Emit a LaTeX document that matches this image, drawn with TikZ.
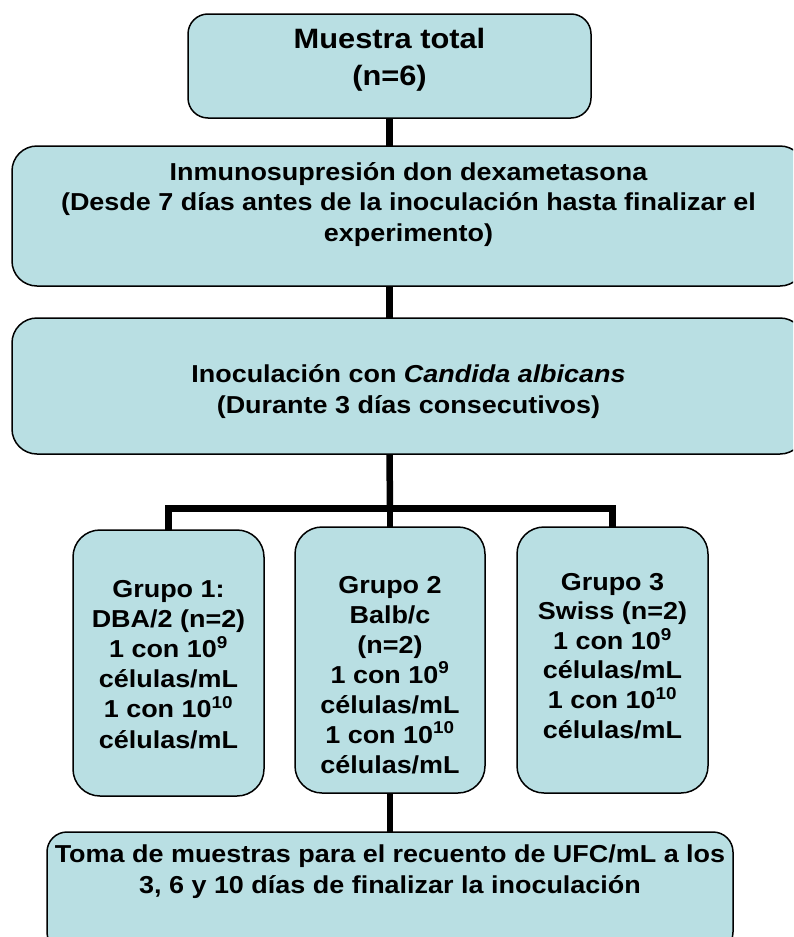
\documentclass[tikz,border=0pt]{standalone}
\usepackage{fontspec}
\setmainfont{Liberation Sans}[FakeStretch=1.1]
\definecolor{boxfill}{RGB}{185,223,227}
\newcommand\fsz[2]{\fontsize{#1}{#2}\selectfont\bfseries}
\newcommand\lines[1]{\begin{tabular}[t]{@{}c@{}}#1\end{tabular}}
\tikzset{
  box/.style={draw=black, line width=1.5pt, fill=boxfill, inner sep=0pt, outer sep=0pt},
  conn/.style={draw=black, line width=6.5pt, line join=miter},
  txt/.style={inner sep=0pt, outer sep=0pt, anchor=base},
}
\begin{document}
\begin{tikzpicture}[x=1pt,y=1pt]
\useasboundingbox (0,0) rectangle (793,-937);
\clip (0,0) rectangle (793,-937);
% boxes (named) -- drawn first as coordinates only for connectors
\path
  node[box, draw=none, fill=none, minimum width=403, minimum height=104] (b1) at (389.5,-66) {}
  node[box, draw=none, fill=none, minimum width=793, minimum height=140] (b2) at (408.5,-216) {}
  node[box, draw=none, fill=none, minimum width=793, minimum height=136] (b3) at (408.5,-386) {}
  node[box, draw=none, fill=none, minimum width=191, minimum height=266] (g1) at (168.5,-663) {}
  node[box, draw=none, fill=none, minimum width=190, minimum height=266] (g2) at (390,-660) {}
  node[box, draw=none, fill=none, minimum width=191, minimum height=266] (g3) at (612.5,-660) {}
  node[box, draw=none, fill=none, minimum width=686, minimum height=120] (b5) at (390,-892) {};
\coordinate (j) at (390,-508.5);
% connectors
\draw[conn] (b1.south) -- (b1.south |- b2.north);
\draw[conn] (b1.south |- b2.south) -- (b1.south |- b3.north);
\draw[conn] (b1.south |- b3.south) -- (j);
\draw[conn] (g1.north) |- (g3.north |- j) -- (g3.north);
\draw[conn] (j) -- (g2.north);
\draw[conn] (g2.south) -- (b5.north);
% visible boxes
\node[box, rounded corners=20pt, minimum width=403, minimum height=104] (B1) at (b1) {};
\node[box, rounded corners=25pt, minimum width=793, minimum height=140] (B2) at (b2) {};
\node[box, rounded corners=25pt, minimum width=793, minimum height=136] (B3) at (b3) {};
\node[box, rounded corners=27pt, minimum width=191, minimum height=266] (G1) at (g1) {};
\node[box, rounded corners=27pt, minimum width=190, minimum height=266] (G2) at (g2) {};
\node[box, rounded corners=27pt, minimum width=191, minimum height=266] (G3) at (g3) {};
\node[box, rounded corners=20pt, minimum width=686, minimum height=120] (B5) at (b5) {};
% texts
\node[txt] (t1) at (389.5,-48) {\fsz{28}{37}\lines{Muestra total\\(n=6)}};
\node[txt] (t2) at (408.5,-180) {\fsz{24.5}{30.5}\lines{Inmunosupresión don dexametasona\\(Desde 7 días antes de la inoculación hasta finalizar el\\experimento)}};
\node[txt] (t3) at (408.5,-382) {\fsz{24.5}{31}\lines{Inoculación con \textit{Candida albicans}\\(Durante 3 días consecutivos)}};
\node[txt] (tg1) at (168.5,-597) {\fsz{24.5}{30.2}\lines{Grupo 1:\\DBA/2 (n=2)\\1 con 10\textsuperscript{9}\\células/mL\\1 con 10\textsuperscript{10}\\células/mL}};
\node[txt] (tg2) at (390,-593) {\fsz{24.5}{30}\lines{Grupo 2\\Balb/c\\(n=2)\\1 con 10\textsuperscript{9}\\células/mL\\1 con 10\textsuperscript{10}\\células/mL}};
\node[txt] (tg3) at (612.5,-590) {\fsz{24.5}{29.5}\lines{Grupo 3\\Swiss (n=2)\\1 con 10\textsuperscript{9}\\células/mL\\1 con 10\textsuperscript{10}\\células/mL}};
\node[txt] (t5) at (390,-862) {\fsz{24.5}{31}\lines{Toma de muestras para el recuento de UFC/mL a los\\3, 6 y 10 días de finalizar la inoculación}};
\end{tikzpicture}
\end{document}
